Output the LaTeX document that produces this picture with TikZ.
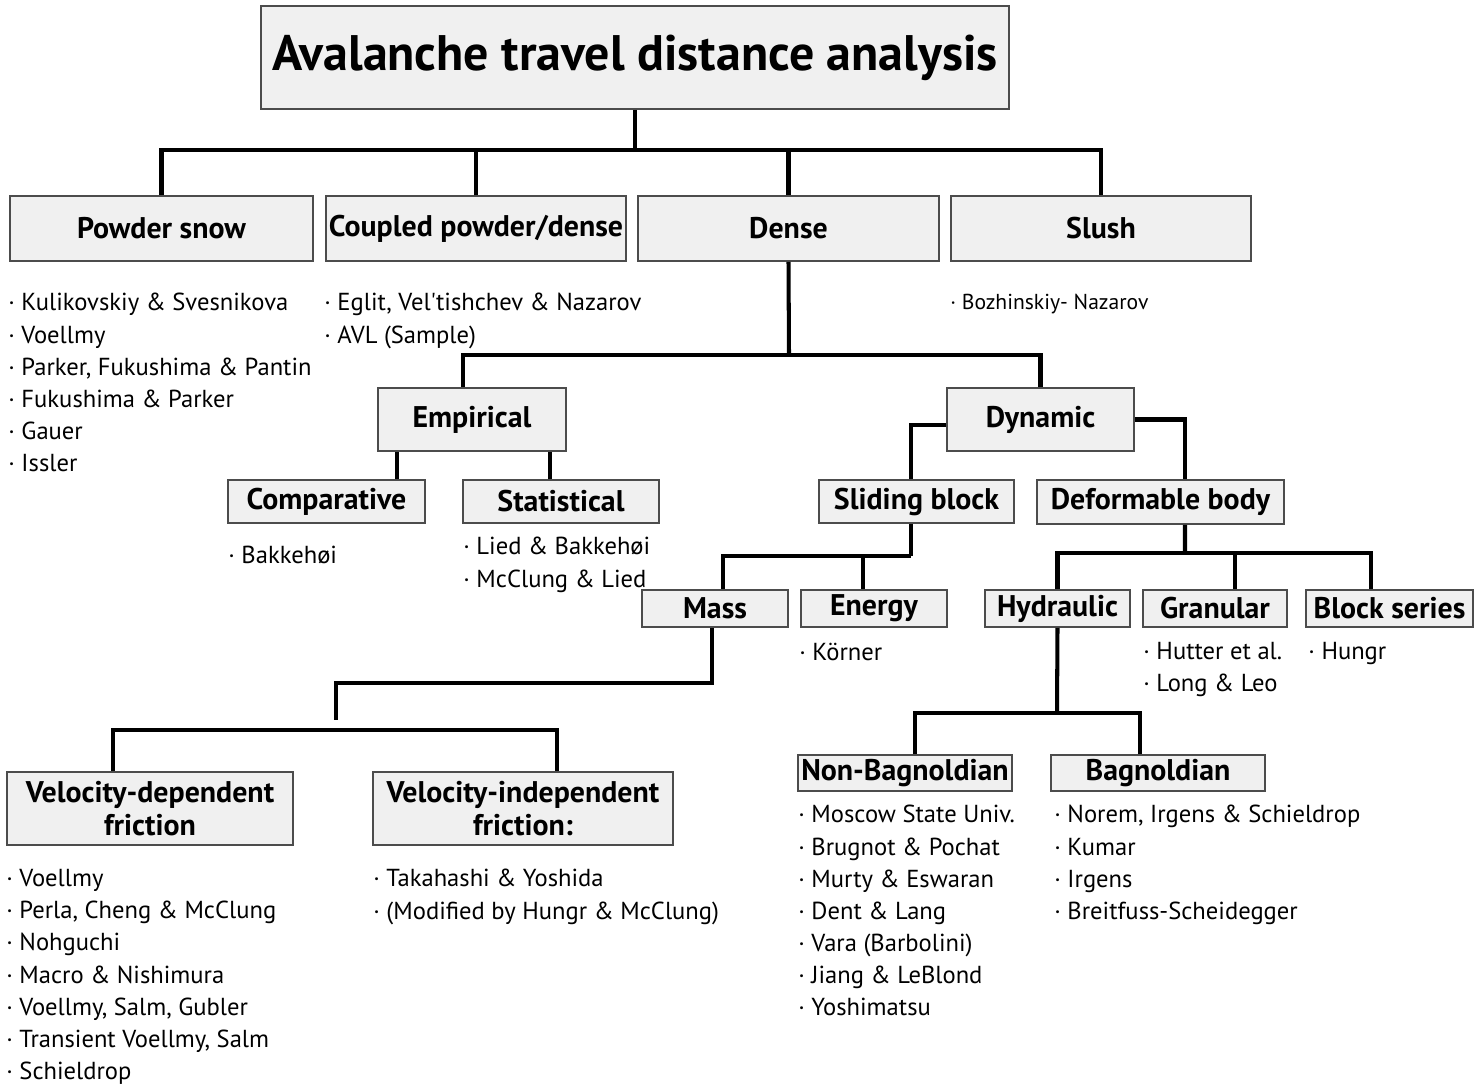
\documentclass[tikz,border=0pt]{standalone}
\usepackage{fontspec}
\setmainfont{PT Sans}
\usetikzlibrary{calc}
\tikzset{
  box/.style={draw=black!70, fill=black!6, line width=1pt, inner sep=0pt,
    font=\bfseries\fontsize{17}{19}\selectfont},
  size/.style 2 args={minimum width=#1*0.02cm, minimum height=#2*0.02cm},
  link/.style={line width=2.3pt},
  refs/.style={anchor=north west, align=left, inner sep=0pt,
    font=\fontsize{14}{18.3}\selectfont},
}
\begin{document}
\begin{tikzpicture}[x=0.02cm, y=-0.02cm]
\useasboundingbox (0,0) rectangle (1474,1086);

% title and the four avalanche types
\node[box, size={748}{103}, font=\bfseries\fontsize{28.4}{32}\selectfont] (title) at (635,57.5) {Avalanche travel distance analysis};
\node[box, size={303}{65}] (powder) at (161.5,228.5) {Powder snow};
\node[box, size={300}{65}] (coupled) at (476,228.5) {Coupled powder/dense};
\node[box, size={301}{65}] (dense) at (788.5,228.5) {Dense};
\node[box, size={300}{65}] (slush) at (1101,228.5) {Slush};

% dense branch
\node[box, size={188}{63}] (empirical) at (472,419.5) {Empirical};
\node[box, size={187}{63}] (dynamic) at (1040.5,419.5) {Dynamic};
\node[box, size={197}{43}] (comparative) at (326.5,501.5) {Comparative};
\node[box, size={196}{43}] (statistical) at (561,501.5) {Statistical};
\node[box, size={195}{43}] (sliding) at (916.5,501.5) {Sliding block};
\node[box, size={247}{44}] (deform) at (1160.5,502) {Deformable body};
\node[box, size={146}{37}] (mass) at (715,608.5) {Mass};
\node[box, size={146}{37}] (energy) at (874,608.5) {Energy};
\node[box, size={145}{37}] (hydraulic) at (1057.5,608.5) {Hydraulic};
\node[box, size={144}{37}] (granular) at (1215,608.5) {Granular};
\node[box, size={167}{37}] (blockser) at (1389.5,608.5) {Block series};
\node[box, size={214}{36}] (nonbag) at (905,773) {Non-Bagnoldian};
\node[box, size={214}{36}] (bag) at (1158,773) {Bagnoldian};
\node[box, size={286}{73}, align=center] (vdep) at (150,808.5) {Velocity-dependent\\friction};
\node[box, size={300}{73}, align=center] (vindep) at (523,808.5) {Velocity-independent\\friction:};

% connectors
\coordinate (b1) at (635,150);
\draw[link] (title.south) -- (b1);
\draw[link] (powder.north) |- (b1) -| (slush.north);
\draw[link] (coupled.north) -- (coupled.north |- b1);
\draw[link] (dense.north) -- (dense.north |- b1);

\coordinate (b2) at (789,355);
\draw[link] (dense.south) -- (b2);
\draw[link] ($(empirical.north)+(-9,0)$) |- (b2) -| (dynamic.north);
\draw[link] ($(comparative.north)+(70.5,0)$) coordinate (ec) -- (ec |- empirical.south);
\draw[link] ($(statistical.north)+(-11,0)$) coordinate (es) -- (es |- empirical.south);

\draw[link] ([yshift=-0.11cm]dynamic.west) -| ($(sliding.north)+(-5.5,0)$);
\draw[link] (dynamic.east) -| ($(deform.north)+(24.5,0)$);

\coordinate (b3) at (911,556);
\draw[link] ($(sliding.south)+(-5.5,0)$) -- (b3);
\draw[link] ($(mass.north)+(8,0)$) |- (b3);
\draw[link] ($(energy.north)+(-11,0)$) coordinate (eq) -- (eq |- b3);

\coordinate (b4) at (1185,553);
\draw[link] ($(deform.south)+(24.5,0)$) -- (b4);
\draw[link] (hydraulic.north) |- (b4) -| ($(blockser.north)+(-18.5,0)$);
\draw[link] ($(granular.north)+(20,0)$) coordinate (gq) -- (gq |- b4);

\coordinate (b5) at (1057,713);
\draw[link] (hydraulic.south) -- (b5);
\draw[link] ($(nonbag.north)+(10,0)$) |- (b5) -| ($(bag.north)+(-18,0)$);

% mass: the stub stops short of the friction bar
\coordinate (b6) at (336,683);
\coordinate (stub) at (336,720);
\draw[link] ($(mass.south)+(-3,0)$) |- (b6) -- (stub);
\coordinate (b7) at (336,730);
\draw[link] ($(vdep.north)+(-37,0)$) |- (b7) -| ($(vindep.north)+(34,0)$);

% model lists
\node[refs] (powderlist) at (8,293) {· Kulikovskiy \& Svesnikova\\· Voellmy\\· Parker, Fukushima \& Pantin\\· Fukushima \& Parker\\· Gauer\\· Issler};
\node[refs] (coupledlist) at (324,293) {· Eglit, Vel\textquotesingle tishchev \& Nazarov\\· AVL (Sample)};
\node[refs, font=\fontsize{12.3}{15}\selectfont] (slushlist) at (950,294) {· Bozhinskiy- Nazarov};
\node[refs] (complist) at (228,546) {· Bakkehøi};
\node[refs] (statlist) at (463,537) {· Lied \& Bakkehøi\\· McClung \& Lied};
\node[refs] (energylist) at (799,643) {· Körner};
\node[refs] (granlist) at (1143,642) {· Hutter et al.\\· Long \& Leo};
\node[refs] (blocklist) at (1308,642) {· Hungr};
\node[refs] (nonbaglist) at (798,805) {· Moscow State Univ.\\· Brugnot \& Pochat\\· Murty \& Eswaran\\· Dent \& Lang\\· Vara (Barbolini)\\· Jiang \& LeBlond\\· Yoshimatsu};
\node[refs] (baglist) at (1054,805) {· Norem, Irgens \& Schieldrop\\· Kumar\\· Irgens\\· Breitfuss-Scheidegger};
\node[refs] (vdeplist) at (6,869) {· Voellmy\\· Perla, Cheng \& McClung\\· Nohguchi\\· Macro \& Nishimura\\· Voellmy, Salm, Gubler\\· Transient Voellmy, Salm\\· Schieldrop};
\node[refs] (vindeplist) at (373,869) {· Takahashi \& Yoshida\\· (Modified by Hungr \& McClung)};
\end{tikzpicture}
\end{document}
